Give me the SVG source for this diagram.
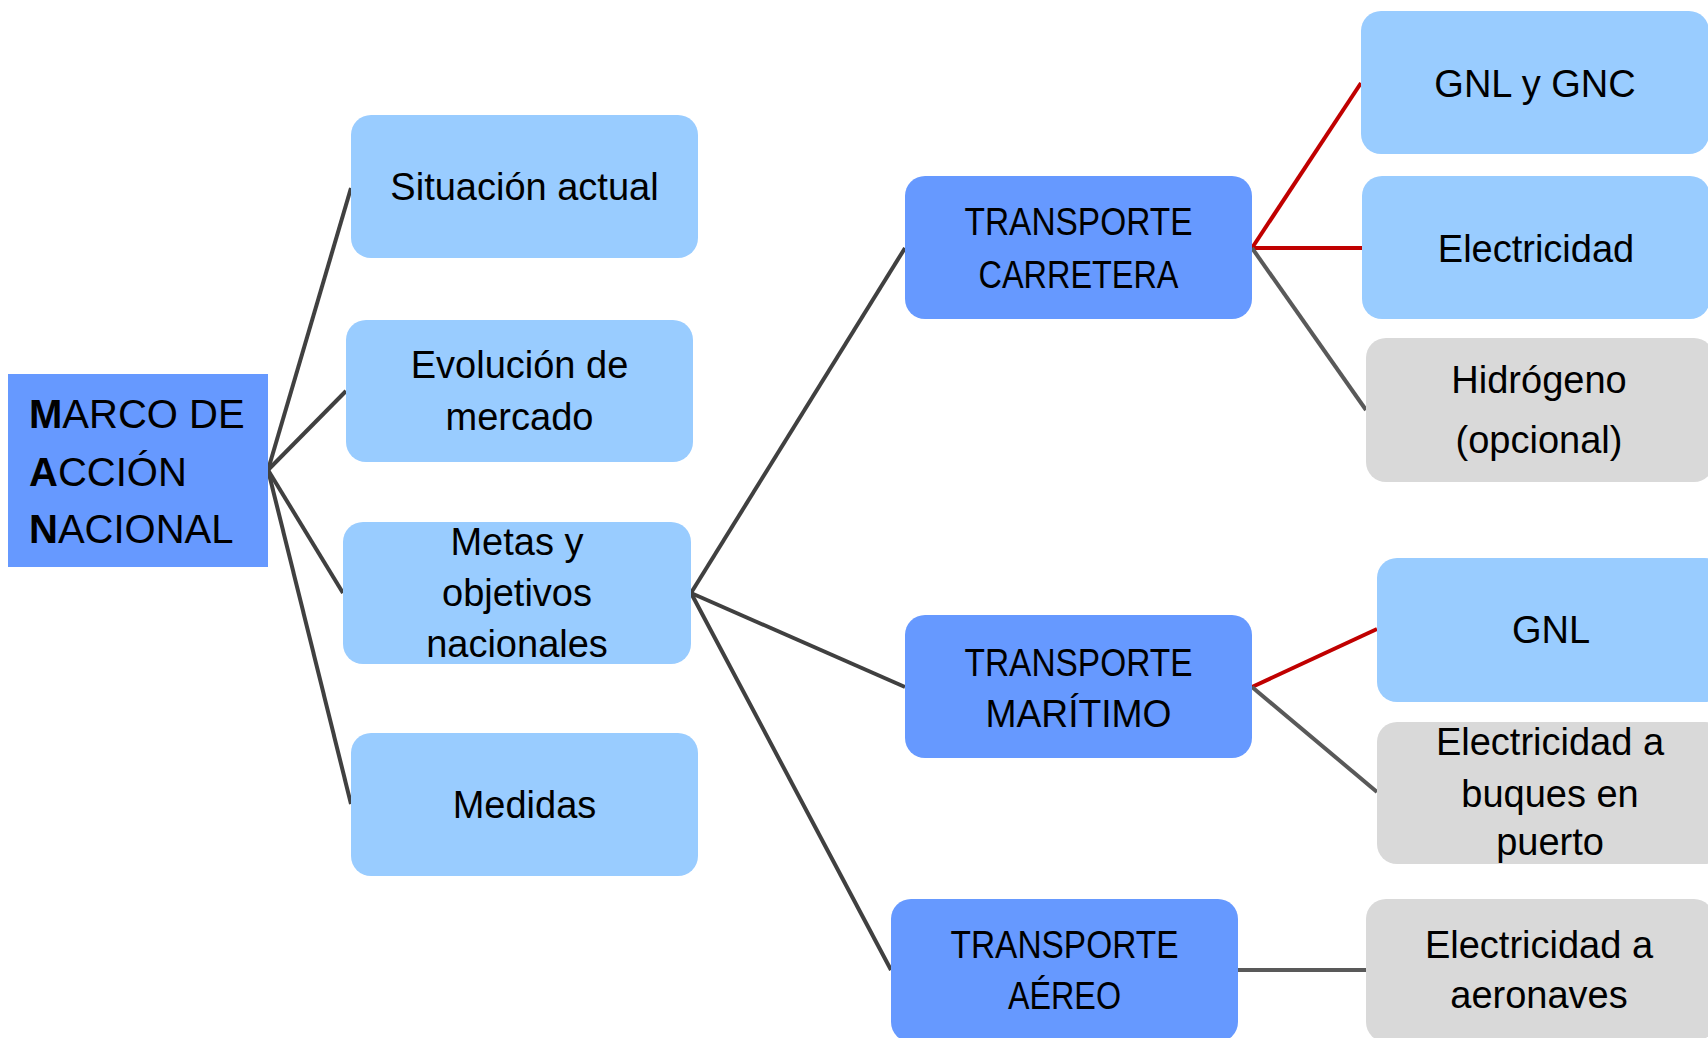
<svg xmlns="http://www.w3.org/2000/svg" width="1708" height="1038" viewBox="0 0 1708 1038">
<style>
text{font-family:"Liberation Sans",Arial,sans-serif;font-size:38px;fill:#000;text-anchor:middle}
.main text{text-anchor:start;font-size:40px}
.lb{fill:#99CCFF}
.mb{fill:#6699FF}
.gr{fill:#D9D9D9}
.c{stroke:#404040;stroke-width:4;fill:none}
.r{stroke:#C00000;stroke-width:4;fill:none}
.g{stroke:#595959;stroke-width:4;fill:none}
</style>
<g id="connectors">
<line class="c" x1="268" y1="470" x2="351" y2="188"/>
<line class="c" x1="268" y1="470" x2="346" y2="391"/>
<line class="c" x1="268" y1="470" x2="343" y2="593"/>
<line class="c" x1="268" y1="470" x2="351" y2="804"/>
<line class="c" x1="691" y1="593" x2="905" y2="248"/>
<line class="c" x1="691" y1="593" x2="905" y2="687"/>
<line class="c" x1="691" y1="593" x2="891" y2="970"/>
<line class="r" x1="1252" y1="248" x2="1361" y2="83"/>
<line class="r" x1="1252" y1="248" x2="1362" y2="248"/>
<line class="g" x1="1252" y1="248" x2="1366" y2="410"/>
<line class="r" x1="1252" y1="687" x2="1377" y2="629"/>
<line class="g" x1="1252" y1="687" x2="1377" y2="792"/>
<line class="g" x1="1238" y1="970" x2="1366" y2="970"/>
</g>
<g id="marco" class="main">
<rect class="mb" x="8" y="374" width="260" height="193"/>
<text x="29" y="428"><tspan font-weight="bold">M</tspan>ARCO DE</text>
<text x="29" y="486"><tspan font-weight="bold">A</tspan>CCIÓN</text>
<text x="29" y="543"><tspan font-weight="bold">N</tspan>ACIONAL</text>
</g>
<g id="situacion">
<rect class="lb" x="351" y="115" width="347" height="143" rx="20"/>
<text x="524.5" y="200">Situación actual</text>
</g>
<g id="evolucion">
<rect class="lb" x="346" y="320" width="347" height="142" rx="20"/>
<text x="519.5" y="378">Evolución de</text>
<text x="519.5" y="430">mercado</text>
</g>
<g id="metas">
<rect class="lb" x="343" y="522" width="348" height="142" rx="20"/>
<text x="517" y="555">Metas y</text>
<text x="517" y="606">objetivos</text>
<text x="517" y="657">nacionales</text>
</g>
<g id="medidas">
<rect class="lb" x="351" y="733" width="347" height="143" rx="20"/>
<text x="524.5" y="818">Medidas</text>
</g>
<g id="carretera">
<rect class="mb" x="905" y="176" width="347" height="143" rx="20"/>
<text x="1078.5" y="235" textLength="228" lengthAdjust="spacingAndGlyphs">TRANSPORTE</text>
<text x="1078.5" y="288" textLength="200" lengthAdjust="spacingAndGlyphs">CARRETERA</text>
</g>
<g id="maritimo">
<rect class="mb" x="905" y="615" width="347" height="143" rx="20"/>
<text x="1078.5" y="676" textLength="228" lengthAdjust="spacingAndGlyphs">TRANSPORTE</text>
<text x="1078.5" y="727" textLength="186" lengthAdjust="spacingAndGlyphs">MARÍTIMO</text>
</g>
<g id="aereo">
<rect class="mb" x="891" y="899" width="347" height="143" rx="20"/>
<text x="1064.5" y="958" textLength="228" lengthAdjust="spacingAndGlyphs">TRANSPORTE</text>
<text x="1064.5" y="1009" textLength="113" lengthAdjust="spacingAndGlyphs">AÉREO</text>
</g>
<g id="gnl-gnc">
<rect class="lb" x="1361" y="11" width="348" height="143" rx="20"/>
<text x="1535" y="97">GNL y GNC</text>
</g>
<g id="electricidad">
<rect class="lb" x="1362" y="176" width="348" height="143" rx="20"/>
<text x="1536" y="262">Electricidad</text>
</g>
<g id="hidrogeno">
<rect class="gr" x="1366" y="338" width="348" height="144" rx="20"/>
<text x="1539" y="393">Hidrógeno</text>
<text x="1539" y="453">(opcional)</text>
</g>
<g id="gnl">
<rect class="lb" x="1377" y="558" width="348" height="144" rx="20"/>
<text x="1551" y="643">GNL</text>
</g>
<g id="buques">
<rect class="gr" x="1377" y="722" width="348" height="142" rx="20"/>
<text x="1550" y="755">Electricidad a</text>
<text x="1550" y="807">buques en</text>
<text x="1550" y="855">puerto</text>
</g>
<g id="aeronaves">
<rect class="gr" x="1366" y="899" width="348" height="143" rx="20"/>
<text x="1539" y="958">Electricidad a</text>
<text x="1539" y="1008">aeronaves</text>
</g>
</svg>
